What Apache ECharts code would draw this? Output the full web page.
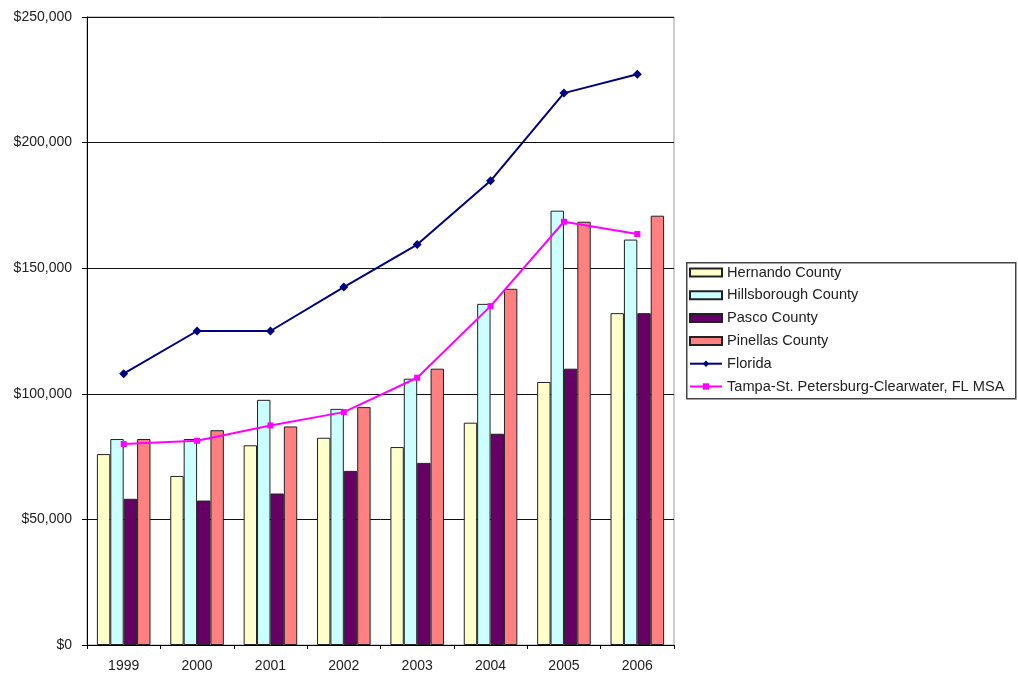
<!DOCTYPE html>
<html>
<head>
<meta charset="utf-8">
<script src="https://cdn.jsdelivr.net/npm/echarts@6/dist/echarts.min.js"></script>
<style>html,body{margin:0;padding:0;background:#fff;}#c{width:1018px;height:673px;}</style>
</head>
<body>
<div id="c"></div>
<script>
const years = ['1999','2000','2001','2002','2003','2004','2005','2006'];
const hernando = [76000, 67300, 79500, 82500, 78800, 88500, 104700, 132100];
const hillsborough = [82000, 82000, 97600, 94000, 106000, 135800, 172900, 161400];
const pasco = [58200, 57500, 60300, 69300, 72500, 84100, 110000, 132100];
const pinellas = [82000, 85500, 87000, 94700, 110000, 141800, 168500, 170900];
const florida = [108000, 125000, 125000, 142500, 159400, 184800, 219700, 227200];
const msa = [80000, 81300, 87400, 92700, 106400, 134900, 168500, 163600];
const yTicks = [0, 50000, 100000, 150000, 200000, 250000];

const FONT = 'Liberation Sans, Arial, sans-serif';
const chart = echarts.init(document.getElementById('c'));
function barSeries(name, data, color) {
  return {
    name, type: 'bar', data,
    barGap: '0%', barCategoryGap: '27%',
    itemStyle: { color, borderColor: '#222', borderWidth: 1 },
    emphasis: { disabled: true }
  };
}
chart.setOption({
  animation: false,
  backgroundColor: '#fff',
  textStyle: { fontFamily: FONT },
  grid: { left: 87, right: 344, top: 17, bottom: 28, show: true, borderColor: '#999', borderWidth: 1, backgroundColor: 'transparent' },
  graphic: [{
    type: 'rect', left: 686, top: 262, shape: { width: 329, height: 136 },
    style: { fill: '#fff', stroke: '#444', lineWidth: 1.5 }, z: -1
  }],
  legend: {
    orient: 'vertical', left: 684, top: 260, itemWidth: 32, itemHeight: 8, itemGap: 7.8,
    textStyle: { fontFamily: FONT, fontSize: 14.6, color: '#222', lineHeight: 14 },
    data: [
      { name: 'Hernando County', icon: 'rect' },
      { name: 'Hillsborough County', icon: 'rect' },
      { name: 'Pasco County', icon: 'rect' },
      { name: 'Pinellas County', icon: 'rect' },
      'Florida', 'Tampa-St. Petersburg-Clearwater, FL MSA']
  },
  xAxis: {
    type: 'category', data: years,
    axisLine: { lineStyle: { color: '#000', width: 1 } },
    axisTick: { show: true, length: 4, lineStyle: { color: '#000' } },
    axisLabel: { fontFamily: FONT, fontSize: 14, color: '#222', margin: 14 }
  },
  yAxis: {
    type: 'value', min: 0, max: 250000, interval: 50000,
    axisLine: { show: true, lineStyle: { color: '#000', width: 1 } },
    axisTick: { show: true, length: 5, lineStyle: { color: '#000' } },
    axisLabel: { fontFamily: FONT, fontSize: 14, color: '#222', margin: 15,
      formatter: v => yTicks.includes(v) ? '$' + v.toLocaleString('en-US') : '' },
    splitLine: { show: true, lineStyle: { color: '#111', width: 1 } }
  },
  series: [
    barSeries('Hernando County', hernando, '#FFFFCC'),
    barSeries('Hillsborough County', hillsborough, '#CCFFFF'),
    barSeries('Pasco County', pasco, '#660066'),
    barSeries('Pinellas County', pinellas, '#FF8080'),
    { name: 'Florida', type: 'line', data: florida, symbol: 'diamond', symbolSize: 9,
      lineStyle: { color: '#000080', width: 2 }, itemStyle: { color: '#000080' }, z: 5 },
    { name: 'Tampa-St. Petersburg-Clearwater, FL MSA', type: 'line', data: msa, symbol: 'rect', symbolSize: 6,
      lineStyle: { color: '#FF00FF', width: 2 }, itemStyle: { color: '#FF00FF' }, z: 5 }
  ]
});
</script>
</body>
</html>
